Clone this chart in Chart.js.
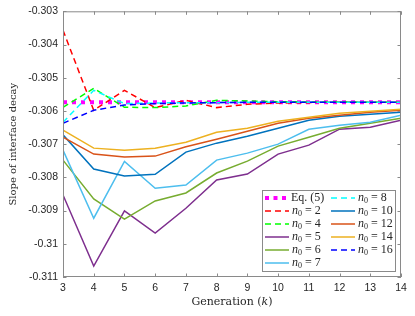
<!DOCTYPE html>
<html>
<head>
<meta charset="utf-8">
<script src="https://cdn.jsdelivr.net/npm/chart.js@4.4.0/dist/chart.umd.min.js"></script>
<style>
  html, body { margin: 0; padding: 0; background: #fff; }
  #wrap { width: 415px; height: 316px; }
</style>
</head>
<body>
<div id="wrap"><canvas id="grafico"></canvas></div>
<script>
const geracoes = [3, 4, 5, 6, 7, 8, 9, 10, 11, 12, 13, 14];
const eq5 = [-0.30574, -0.30574, -0.30574, -0.30574, -0.30574, -0.30574, -0.30574, -0.30574, -0.30574, -0.30574, -0.30574, -0.30574];
const n2 = [-0.30357, -0.30598, -0.30538, -0.30590, -0.30568, -0.30590, -0.30580, -0.30576, -0.30575, -0.30573, -0.30574, -0.30574];
const n4 = [-0.30589, -0.30532, -0.30589, -0.30590, -0.30585, -0.30568, -0.30570, -0.30572, -0.30573, -0.30573, -0.30574, -0.30574];
const n5 = [-0.30853, -0.31067, -0.30901, -0.30968, -0.30893, -0.30808, -0.30790, -0.30730, -0.30703, -0.30655, -0.30649, -0.30628];
const n6 = [-0.30748, -0.30865, -0.30926, -0.30871, -0.30847, -0.30787, -0.30751, -0.30706, -0.30679, -0.30652, -0.30637, -0.30622];
const n7 = [-0.30718, -0.30923, -0.30752, -0.30833, -0.30823, -0.30748, -0.30727, -0.30700, -0.30655, -0.30643, -0.30634, -0.30613];
const n8 = [-0.30634, -0.30538, -0.30578, -0.30576, -0.30575, -0.30575, -0.30574, -0.30574, -0.30574, -0.30574, -0.30574, -0.30574];
const n10 = [-0.30672, -0.30775, -0.30796, -0.30791, -0.30724, -0.30697, -0.30676, -0.30652, -0.30628, -0.30616, -0.30610, -0.30604];
const n12 = [-0.30679, -0.30730, -0.30739, -0.30736, -0.30708, -0.30685, -0.30661, -0.30637, -0.30622, -0.30613, -0.30604, -0.30598];
const n14 = [-0.30658, -0.30712, -0.30718, -0.30712, -0.30694, -0.30664, -0.30652, -0.30631, -0.30619, -0.30607, -0.30601, -0.30595];
const n16 = [-0.30637, -0.30598, -0.30582, -0.30578, -0.30576, -0.30575, -0.30574, -0.30574, -0.30574, -0.30574, -0.30574, -0.30574];
const yTicks = [-0.311, -0.310, -0.309, -0.308, -0.307, -0.306, -0.305, -0.304, -0.303];

const serie = (label, n, data, cor, dash, larg) => ({
    label: label, n0: n, data: data, borderColor: cor, backgroundColor: cor,
    borderDash: dash, borderWidth: larg, pointRadius: 0, tension: 0, fill: false
});

const conjuntos = [
    serie('Eq. (5)', null, eq5, '#FF00FF', [4, 5], 4),
    serie('n0 = 2', '2', n2, '#FF0000', [6, 4], 1.5),
    serie('n0 = 4', '4', n4, '#00FF00', [6, 4], 1.5),
    serie('n0 = 5', '5', n5, '#7E2F8E', [], 1.5),
    serie('n0 = 6', '6', n6, '#77AC30', [], 1.5),
    serie('n0 = 7', '7', n7, '#4DBEEE', [], 1.5),
    serie('n0 = 8', '8', n8, '#00FFFF', [6, 4], 1.5),
    serie('n0 = 10', '10', n10, '#0072BD', [], 1.5),
    serie('n0 = 12', '12', n12, '#D95319', [], 1.5),
    serie('n0 = 14', '14', n14, '#EDB120', [], 1.5),
    serie('n0 = 16', '16', n16, '#0000FF', [6, 4], 1.5)
];
// MATLAB draws later series on top
conjuntos.forEach((d, i) => { d.order = 20 - i; });

const SERIF = '"DejaVu Serif", "Liberation Serif", serif';
const LEG = '"Liberation Serif", "DejaVu Serif", serif';

const moldura = {
    id: 'moldura',
    afterDraw(chart) {
        const c = chart.ctx;
        const a = chart.chartArea;
        const sx = chart.scales.x, sy = chart.scales.y;
        c.save();
        c.strokeStyle = '#8a8a8a';
        c.lineWidth = 1;
        c.strokeRect(a.left + 0.5, a.top + 0.5, a.right - a.left - 1, a.bottom - a.top - 1);
        c.beginPath();
        geracoes.forEach(g => {
            const px = Math.round(sx.getPixelForValue(g)) + 0.5;
            c.moveTo(px, a.bottom); c.lineTo(px, a.bottom - 3.5);
            c.moveTo(px, a.top); c.lineTo(px, a.top + 3.5);
        });
        yTicks.forEach(v => {
            const py = Math.round(sy.getPixelForValue(v)) + 0.5;
            c.moveTo(a.left, py); c.lineTo(a.left + 3.5, py);
            c.moveTo(a.right, py); c.lineTo(a.right - 3.5, py);
        });
        c.stroke();

        // titulos
        c.fillStyle = '#262626';
        c.textBaseline = 'middle';
        c.save();
        c.font = '10px ' + SERIF;
        c.translate(13, (a.top + a.bottom) / 2);
        c.rotate(-Math.PI / 2);
        c.textAlign = 'center';
        c.fillText('Slope of interface decay', 0, 0);
        c.restore();

        const t1 = 'Generation (', t2 = 'k', t3 = ')';
        c.font = '11px ' + SERIF;
        const w1 = c.measureText(t1).width, w3 = c.measureText(t3).width;
        c.font = 'italic 11px ' + SERIF;
        const w2 = c.measureText(t2).width;
        let x0 = (a.left + a.right) / 2 - (w1 + w2 + w3) / 2;
        const yt = 302;
        c.textAlign = 'left';
        c.font = '11px ' + SERIF; c.fillText(t1, x0, yt);
        c.font = 'italic 11px ' + SERIF; c.fillText(t2, x0 + w1, yt);
        c.font = '11px ' + SERIF; c.fillText(t3, x0 + w1 + w2, yt);

        // legenda
        const bx = 262, by = 190, bw = 133, bh = 81;
        c.fillStyle = '#fff';
        c.fillRect(bx, by, bw, bh);
        c.strokeStyle = '#8a8a8a';
        c.strokeRect(bx + 0.5, by + 0.5, bw, bh);
        const colunas = [conjuntos.slice(0, 6), conjuntos.slice(6)];
        const colX = [265, 331];
        colunas.forEach((lista, ci) => {
            lista.forEach((d, ri) => {
                const y = 198 + ri * 13;
                const lx = colX[ci];
                c.beginPath();
                c.strokeStyle = d.borderColor;
                c.lineWidth = d.borderWidth;
                c.setLineDash(d.n0 === null ? [4, 4.5] : d.borderDash);
                c.moveTo(lx, y); c.lineTo(lx + 24, y);
                c.stroke();
                c.setLineDash([]);
                c.fillStyle = '#262626';
                let tx = lx + 26;
                if (d.n0 === null) {
                    c.font = '12px ' + LEG;
                    c.fillText(d.label, tx, y);
                } else {
                    tx += 1;
                    c.font = 'italic 12px ' + LEG;
                    c.fillText('n', tx, y);
                    tx += c.measureText('n').width;
                    c.font = '8px ' + LEG;
                    c.fillText('0', tx, y + 3);
                    tx += c.measureText('0').width;
                    c.font = '12px ' + LEG;
                    c.fillText(' = ' + d.n0, tx, y);
                }
            });
        });
        c.restore();
    }
};

const grafico = new Chart(document.getElementById('grafico').getContext('2d'), {
    type: 'line',
    data: { labels: geracoes, datasets: conjuntos },
    options: {
        responsive: true,
        maintainAspectRatio: false,
        animation: false,
        events: [],
        layout: { padding: { top: 11, right: 14, left: 0, bottom: 0 } },
        plugins: { legend: { display: false }, tooltip: { enabled: false } },
        scales: {
            x: {
                type: 'linear', min: 3, max: 14,
                afterBuildTicks: (s) => { s.ticks = geracoes.map(v => ({ value: v })); },
                afterFit: (s) => { s.height = 39; },
                grid: { display: false, drawTicks: false },
                border: { display: false },
                ticks: { color: '#262626', padding: 5, maxRotation: 0, font: { family: '"Liberation Sans", Arial, sans-serif', size: 10.5 } }
            },
            y: {
                min: -0.311, max: -0.303,
                afterBuildTicks: (s) => { s.ticks = yTicks.map(v => ({ value: v })); },
                afterFit: (s) => { s.width = 63; },
                grid: { display: false, drawTicks: false },
                border: { display: false },
                ticks: {
                    color: '#262626', padding: 5,
                    font: { family: '"Liberation Sans", Arial, sans-serif', size: 10.5 },
                    callback: (v) => String(parseFloat(v.toFixed(3)))
                }
            }
        }
    },
    plugins: [moldura]
});
</script>
</body>
</html>
